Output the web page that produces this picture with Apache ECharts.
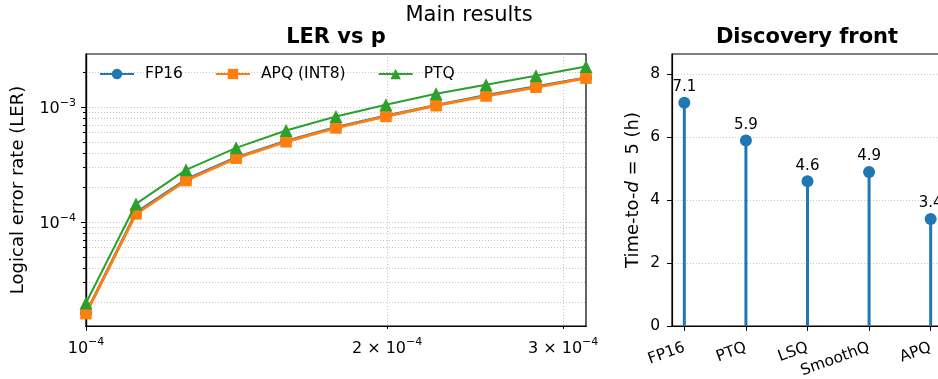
<!DOCTYPE html>
<html>
<head>
<meta charset="utf-8">
<script src="https://cdn.jsdelivr.net/npm/echarts@6/dist/echarts.min.js"></script>
<style>
html, body { margin: 0; padding: 0; background: #fff; }
#chart { width: 938px; height: 379px; }
</style>
</head>
<body>
<div id="chart"></div>
<script>
// LER sweep over physical error rate p
const pValues = [1e-4, 1.122e-4, 1.259e-4, 1.413e-4, 1.585e-4, 1.778e-4, 1.995e-4, 2.239e-4, 2.512e-4, 2.818e-4, 3.162e-4];
const lerFP16 = [1.62e-5, 1.21e-4, 2.35e-4, 3.66e-4, 5.07e-4, 6.68e-4, 8.4e-4, 1.04e-3, 1.27e-3, 1.51e-3, 1.80e-3];
const lerAPQ = [1.6e-5, 1.18e-4, 2.30e-4, 3.6e-4, 5.0e-4, 6.6e-4, 8.3e-4, 1.03e-3, 1.25e-3, 1.49e-3, 1.79e-3];
const lerPTQ = [1.98e-5, 1.44e-4, 2.85e-4, 4.43e-4, 6.27e-4, 8.3e-4, 1.05e-3, 1.31e-3, 1.57e-3, 1.88e-3, 2.26e-3];

// discovery front
const methods = ['FP16', 'PTQ', 'LSQ', 'SmoothQ', 'APQ'];
const timeToD5 = [7.1, 5.9, 4.6, 4.9, 3.4];

// tick labels
const xTicksMajor = [1e-4];
const xTicksMinor = [2e-4, 3e-4];
const yTicksMajor = [1e-4, 1e-3];
const yTicksMinor = [2e-5, 3e-5, 4e-5, 5e-5, 6e-5, 7e-5, 8e-5, 9e-5,
    2e-4, 3e-4, 4e-4, 5e-4, 6e-4, 7e-4, 8e-4, 9e-4, 2e-3];
const stemTicks = [0, 2, 4, 6, 8];

const FONT = 'DejaVu Sans';
const TICK_FS = 15.5;
const gridLine = {show: true, lineStyle: {color: '#b8b8b8', width: 0.8, type: [1, 2]}};
const supRich = {
    b: {fontSize: 16, lineHeight: 20, verticalAlign: 'bottom', color: '#000', fontFamily: FONT},
    s: {fontSize: 11, lineHeight: 12, verticalAlign: 'top', color: '#000', fontFamily: FONT}
};

// 2e-4 -> "2 × 10^−4" as rich text
function sciLabel (v){
    const exp = Math.floor(Math.log10(v) + 1e-9);
    const mant = Math.round(v / Math.pow(10, exp));
    const pow = '{b|10}{s|' + String(exp).replace('-', '\u2212') + '}';
    return mant === 1 ? pow : '{b|' + mant + ' \u00d7 }' + pow;
}

function logAxis (min, max, ticks, tickLen, withLabels, position){
    return {
        type: 'log', logBase: 10, min: min, max: max, gridIndex: 0, position: position, offset: 0,
        axisLine: {show: true, onZero: false, lineStyle: {color: '#000', width: 1.2}},
        axisTick: {show: true, length: tickLen, customValues: ticks, lineStyle: {color: '#000', width: 1}},
        axisLabel: withLabels
            ? {show: true, customValues: ticks, formatter: sciLabel, rich: supRich, margin: position === 'bottom' ? 11 : 10}
            : {show: false},
        minorTick: {show: false},
        splitLine: gridLine
    };
}

const chart = echarts.init(document.getElementById('chart'), null, {renderer: 'canvas'});

chart.setOption({
    animation: false,
    backgroundColor: '#fff',
    textStyle: {fontFamily: FONT, color: '#000'},
    title: [
        {text: 'Main results', left: 'center', top: 5, padding: 0,
            textStyle: {fontSize: 21, fontWeight: 'normal', color: '#000', fontFamily: FONT}},
        {text: 'LER vs p', left: 336, textAlign: 'center', top: 27, padding: 0,
            textStyle: {fontSize: 21, fontWeight: 'bold', color: '#000', fontFamily: FONT}},
        {text: 'Discovery front', left: 807, textAlign: 'center', top: 27, padding: 0,
            textStyle: {fontSize: 21, fontWeight: 'bold', color: '#000', fontFamily: FONT}}
    ],
    legend: {
        data: ['FP16', 'APQ (INT8)', 'PTQ'],
        left: 99, top: 66, padding: 0,
        itemWidth: 34, itemHeight: 13, itemGap: 32,
        textStyle: {fontSize: TICK_FS, color: '#000', fontFamily: FONT, padding: [0, 0, 0, 6]}
    },
    grid: [
        {left: 86, top: 54, width: 500, height: 272, show: true, borderColor: '#000', borderWidth: 1.2,
            outerBoundsMode: 'none'},
        {left: 672, top: 54, width: 271, height: 272, show: true, borderColor: '#000', borderWidth: 1.2,
            outerBoundsMode: 'none'}
    ],
    xAxis: [
        logAxis(1e-4, 3.162e-4, xTicksMajor, 5, true, 'bottom'),
        logAxis(1e-4, 3.162e-4, xTicksMinor, 3, true, 'bottom'),
        {
            type: 'value', gridIndex: 1, min: -0.2, max: 4.2, position: 'bottom',
            axisLine: {show: true, onZero: false, lineStyle: {color: '#000', width: 1.2}},
            axisTick: {show: true, length: 5, customValues: [0, 1, 2, 3, 4], lineStyle: {color: '#000'}},
            axisLabel: {
                show: true, customValues: [0, 1, 2, 3, 4], rotate: 20, margin: 21,
                fontSize: TICK_FS, color: '#000', fontFamily: FONT,
                formatter: v => methods[Math.round(v)]
            },
            splitLine: {show: false}
        }
    ],
    yAxis: [
        Object.assign(logAxis(1.25e-5, 2.9e-3, yTicksMajor, 5, true, 'left'), {
            name: 'Logical error rate (LER)', nameLocation: 'middle', nameGap: 59,
            nameTextStyle: {fontSize: 18, color: '#000', fontFamily: FONT}
        }),
        logAxis(1.25e-5, 2.9e-3, yTicksMinor, 3, false, 'left'),
        {
            type: 'value', gridIndex: 1, min: 0, max: 8.65, position: 'left',
            axisLine: {show: true, onZero: false, lineStyle: {color: '#000', width: 1.2}},
            axisTick: {show: true, length: 5, customValues: stemTicks, lineStyle: {color: '#000'}},
            axisLabel: {show: true, customValues: stemTicks, margin: 12, fontSize: TICK_FS, color: '#000', fontFamily: FONT},
            splitLine: gridLine,
            name: 'Time-to-{i|d} = 5 (h)', nameLocation: 'middle', nameGap: 30,
            nameTextStyle: {
                fontSize: 18, color: '#000', fontFamily: FONT,
                rich: {i: {fontSize: 18, fontStyle: 'italic', color: '#000', fontFamily: FONT}}
            }
        }
    ],
    series: [
        {
            name: 'FP16', type: 'line', xAxisIndex: 0, yAxisIndex: 0,
            data: pValues.map((p, i) => [p, lerFP16[i]]),
            symbol: 'circle', symbolSize: 12,
            lineStyle: {color: '#1f77b4', width: 2.6}, itemStyle: {color: '#1f77b4', opacity: 1}, z: 3
        },
        {
            name: 'APQ (INT8)', type: 'line', xAxisIndex: 0, yAxisIndex: 0,
            data: pValues.map((p, i) => [p, lerAPQ[i]]),
            symbol: 'rect', symbolSize: 11.5,
            lineStyle: {color: '#ff7f0e', width: 2.8}, itemStyle: {color: '#ff7f0e', opacity: 1}, z: 4
        },
        {
            name: 'PTQ', type: 'line', xAxisIndex: 0, yAxisIndex: 0,
            data: pValues.map((p, i) => [p, lerPTQ[i]]),
            symbol: 'triangle', symbolSize: 13,
            lineStyle: {color: '#2ca02c', width: 2}, itemStyle: {color: '#2ca02c', opacity: 1}, z: 5
        },
        {
            // stems
            type: 'bar', xAxisIndex: 2, yAxisIndex: 2,
            data: methods.map((m, i) => [i, timeToD5[i]]),
            barWidth: 3, itemStyle: {color: '#1f77b4'}, silent: true
        },
        {
            type: 'scatter', xAxisIndex: 2, yAxisIndex: 2,
            data: methods.map((m, i) => [i, timeToD5[i]]),
            symbol: 'circle', symbolSize: 12, itemStyle: {color: '#1f77b4', opacity: 1},
            label: {
                show: true, position: 'top', distance: 2,
                fontSize: 15, color: '#000', fontFamily: FONT,
                formatter: p => p.value[1].toFixed(1)
            },
            z: 3
        }
    ]
});
</script>
</body>
</html>
